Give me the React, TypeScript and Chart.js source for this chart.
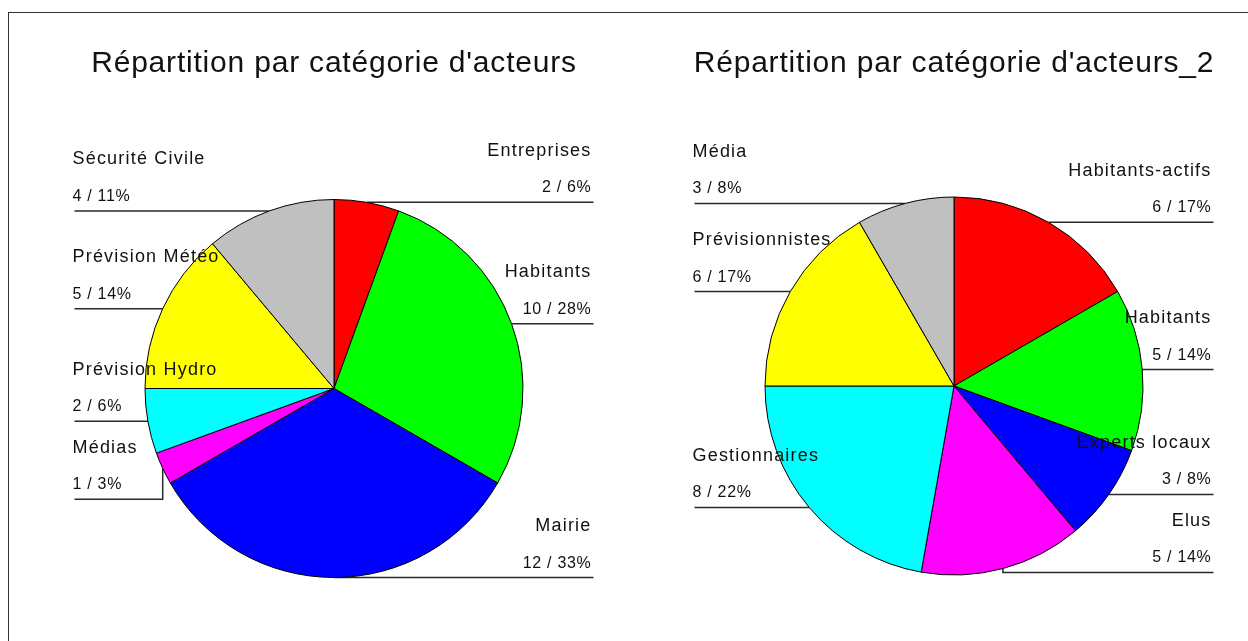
import React, { useEffect, useRef } from "react";
import { Chart, registerables } from "chart.js";

Chart.register(...registerables);

const leftTitle = "Répartition par catégorie d'acteurs";
const leftLabels = ["Entreprises", "Habitants", "Mairie", "Médias", "Prévision Hydro", "Prévision Météo", "Sécurité Civile"];
const leftValues = [2, 10, 12, 1, 2, 5, 4];

const rightTitle = "Répartition par catégorie d'acteurs_2";
const rightLabels = ["Habitants-actifs", "Habitants", "Experts locaux", "Elus", "Gestionnaires", "Prévisionnistes", "Média"];
const rightValues = [6, 5, 3, 5, 8, 6, 3];

const sliceColors = ["#ff0000", "#00ff00", "#0000ff", "#ff00ff", "#00ffff", "#ffff00", "#c0c0c0"];

const CANVAS_W = 624;
const CANVAS_H = 641;
const RADIUS = 189;
const COLUMN_OFFSET = 259.5;
const MIN_GAP = 78;
const FONT = '"Liberation Sans", Arial, sans-serif';

type Callout = { i: number; ex: number; ey: number; ly: number; right: boolean; cx: number };

function computeCallouts(chart: any): Callout[] {
  const meta = chart.getDatasetMeta(0);
  const items: Callout[] = meta.data.map((arc: any, i: number) => {
    const p = arc.getProps(["x", "y", "startAngle", "endAngle", "outerRadius"], true);
    const mid = (p.startAngle + p.endAngle) / 2;
    const ex = p.x + p.outerRadius * Math.cos(mid);
    const ey = p.y + p.outerRadius * Math.sin(mid);
    return { i, ex, ey, ly: ey, right: Math.cos(mid) > -1e-6, cx: p.x };
  });
  [true, false].forEach((side) => {
    const s = items.filter((c) => c.right === side).sort((a, b) => a.ey - b.ey);
    for (let k = 1; k < s.length; k++) {
      if (s[k].ly < s[k - 1].ly + MIN_GAP) s[k].ly = s[k - 1].ly + MIN_GAP;
    }
  });
  return items;
}

const calloutPlugin = {
  id: "callouts",
  beforeDatasetsDraw(chart: any) {
    const ctx = chart.ctx;
    const items = computeCallouts(chart);
    ctx.save();
    ctx.strokeStyle = "#2a2a2a";
    ctx.lineWidth = 1.5;
    items.forEach((c) => {
      const col = c.right ? c.cx + COLUMN_OFFSET : c.cx - COLUMN_OFFSET;
      ctx.beginPath();
      ctx.moveTo(c.ex, c.ey);
      if (Math.abs(c.ly - c.ey) > 0.5) ctx.lineTo(c.ex, c.ly);
      ctx.lineTo(col, c.ly);
      ctx.stroke();
    });
    ctx.restore();
  },
  afterDatasetsDraw(chart: any) {
    const ctx = chart.ctx;
    const items = computeCallouts(chart);
    const labels: string[] = chart.data.labels;
    const values: number[] = chart.data.datasets[0].data;
    const total = values.reduce((a, b) => a + b, 0);
    ctx.save();
    ctx.fillStyle = "#111";
    ctx.textBaseline = "alphabetic";
    items.forEach((c) => {
      const col = c.right ? c.cx + COLUMN_OFFSET - 2 : c.cx - COLUMN_OFFSET - 2;
      ctx.textAlign = c.right ? "right" : "left";
      ctx.font = `18px ${FONT}`;
      (ctx as any).letterSpacing = "1.2px";
      ctx.fillText(labels[c.i], col, c.ly - 46.5);
      ctx.font = `16px ${FONT}`;
      (ctx as any).letterSpacing = "0.7px";
      const pct = Math.round((values[c.i] / total) * 100);
      ctx.fillText(`${values[c.i]} / ${pct}%`, col, c.ly - 10);
    });
    const title = chart.options.plugins.callouts.title;
    const cx = items.length ? items[0].cx : chart.width / 2;
    ctx.font = `30px ${FONT}`;
    (ctx as any).letterSpacing = "0.8px";
    ctx.textAlign = "center";
    ctx.fillText(title, cx, 72);
    ctx.restore();
  },
};

function PieChart(props: { labels: string[]; values: number[]; title: string; left: number; cx: number; cy: number }) {
  const ref = useRef<HTMLCanvasElement | null>(null);
  useEffect(() => {
    if (!ref.current) return;
    const half = RADIUS + 11;
    const chart = new Chart(ref.current, {
      type: "pie",
      data: {
        labels: props.labels,
        datasets: [
          {
            data: props.values,
            backgroundColor: sliceColors,
            borderColor: "#000",
            borderWidth: 1,
          },
        ],
      },
      options: {
        animation: false,
        responsive: false,
        maintainAspectRatio: false,
        devicePixelRatio: 1,
        events: [],
        radius: RADIUS,
        layout: {
          padding: {
            left: props.cx - half,
            right: CANVAS_W - (props.cx + half),
            top: props.cy - half,
            bottom: CANVAS_H - (props.cy + half),
          },
        },
        plugins: {
          legend: { display: false },
          tooltip: { enabled: false },
          title: { display: false },
          callouts: { title: props.title },
        } as any,
      } as any,
      plugins: [calloutPlugin as any],
    });
    return () => chart.destroy();
  }, []);
  return (
    <canvas
      ref={ref}
      width={CANVAS_W}
      height={CANVAS_H}
      style={{ position: "absolute", left: props.left, top: 0, width: CANVAS_W, height: CANVAS_H }}
    />
  );
}

export default function App() {
  return (
    <div style={{ position: "fixed", left: 0, top: 0, width: 1248, height: 641, overflow: "hidden", background: "#fff" }}>
      <div
        style={{
          position: "absolute",
          left: 8,
          top: 12,
          width: 1300,
          height: 700,
          border: "1px solid #333",
        }}
      />
      <PieChart labels={leftLabels} values={leftValues} title={leftTitle} left={0} cx={334} cy={388.5} />
      <PieChart labels={rightLabels} values={rightValues} title={rightTitle} left={624} cx={330} cy={386} />
    </div>
  );
}
